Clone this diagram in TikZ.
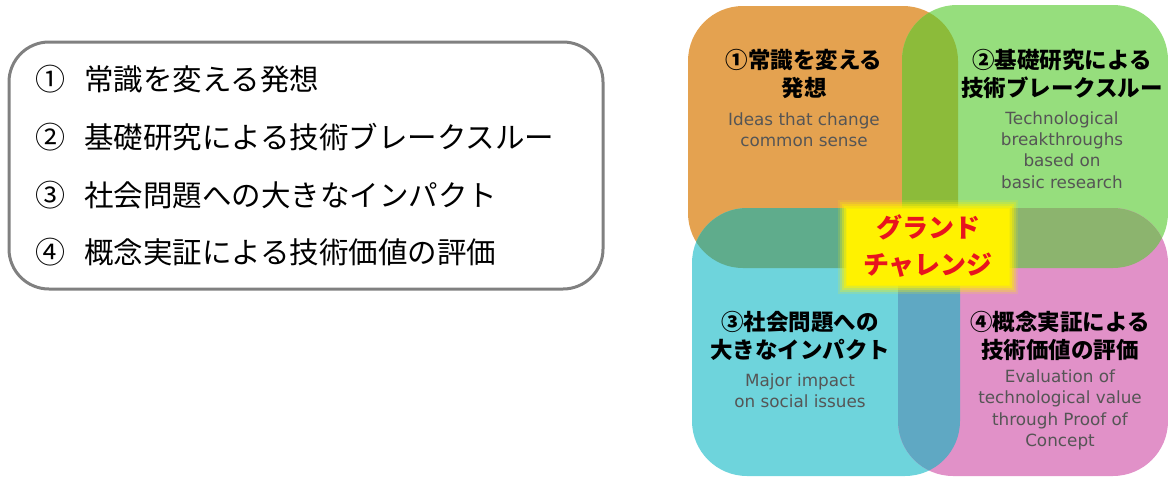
\documentclass[tikz,border=0pt]{standalone}
\usepackage{fontspec}
\newfontfamily\jp{Noto Sans CJK JP}
\newfontfamily\en{DejaVu Sans}
\usetikzlibrary{positioning}
\definecolor{cOr}{HTML}{E4A250}
\definecolor{cGr}{HTML}{96DE7D}
\definecolor{cTe}{HTML}{6ED4DC}
\definecolor{cPi}{HTML}{E191C8}
\definecolor{cOG}{HTML}{8CBB3A}
\definecolor{cOT}{HTML}{5FAC8C}
\definecolor{cGP}{HTML}{8CB46E}
\definecolor{cTP}{HTML}{5FA8C3}
\definecolor{cEn}{HTML}{555555}
\definecolor{cRed}{HTML}{E8141E}
\definecolor{cFrame}{HTML}{808080}
\newcommand{\pOr}{(688,6) rectangle (958,268)}
\newcommand{\pGr}{(902,5) rectangle (1168,268)}
\newcommand{\pTe}{(692,208) rectangle (960,476)}
\newcommand{\pPi}{(898,208) rectangle (1168,476)}
\tikzset{
  listitem/.style={anchor=west, inner sep=0pt, font=\jp\fontsize{29.5}{34}\selectfont},
  listnum/.style={anchor=center, inner sep=0pt, font=\jp\fontsize{30}{34}\selectfont},
  head/.style={align=center, inner sep=0pt, font=\jp\bfseries\fontsize{22.5}{28}\selectfont},
  eng/.style={align=center, inner sep=0pt, text=cEn, font=\en\fontsize{16.8}{21.3}\selectfont},
  gc/.style={align=center, inner sep=0pt, font=\jp\bfseries\fontsize{26}{37}\selectfont},
  rr/.style={rounded corners=55pt}
}
\begin{document}
\begin{tikzpicture}[x=1pt,y=-1pt]
\useasboundingbox (0,0) rectangle (1168,483);
% left list frame
\draw[cFrame, line width=3pt, rounded corners=40pt] (9,42) rectangle (603,289);
\node[listnum] (n1) at (50,79) {①};
\node[listnum] (n2) at (50,137) {②};
\node[listnum] (n3) at (50,195) {③};
\node[listnum] (n4) at (50,252) {④};
\node[listitem] (l1) at (84,79) {常識を変える発想};
\node[listitem] (l2) at (84,137) {基礎研究による技術ブレークスルー};
\node[listitem] (l3) at (84,195) {社会問題への大きなインパクト};
\node[listitem] (l4) at (84,252) {概念実証による技術価値の評価};
% quadrants
\fill[cOr, rr] \pOr;
\fill[cGr, rr] \pGr;
\fill[cTe, rr] \pTe;
\fill[cPi, rr] \pPi;
\begin{scope}\clip[rr] \pOr; \fill[cOG, rr] \pGr; \end{scope}
\begin{scope}\clip[rr] \pOr; \fill[cOT, rr] \pTe; \end{scope}
\begin{scope}\clip[rr] \pGr; \fill[cGP, rr] \pPi; \end{scope}
\begin{scope}\clip[rr] \pTe; \fill[cTP, rr] \pPi; \end{scope}
% yellow centre with glow
\foreach \d/\o in {9/0.15,7/0.25,5/0.35,3/0.5,1/0.7}{
  \fill[yellow, opacity=\o] (847-\d,209-\d) rectangle (1009+\d,285+\d);
}
\fill[yellow] (847,209) rectangle (1009,285);
% centre text
\node[gc, text=cRed] (gcm) at (928,246) {グランド\\チャレンジ};
% headings
\node[head] (h1) at (804,74) {①常識を変える\\発想};
\node[eng] (e1) at (804,129.5) {Ideas that change\\common sense};
\node[head] (h2) at (1062,74) {②基礎研究による\\技術ブレークスルー};
\node[eng] (e2) at (1062,150) {Technological\\breakthroughs\\based on\\basic research};
\node[head] (h3) at (800,336) {③社会問題への\\大きなインパクト};
\node[eng] (e3) at (800,390.5) {Major impact\\on social issues};
\node[head] (h4) at (1060,336) {④概念実証による\\技術価値の評価};
\node[eng] (e4) at (1060,410) {Evaluation of\\technological value\\through Proof of\\Concept};
\end{tikzpicture}
\end{document}
